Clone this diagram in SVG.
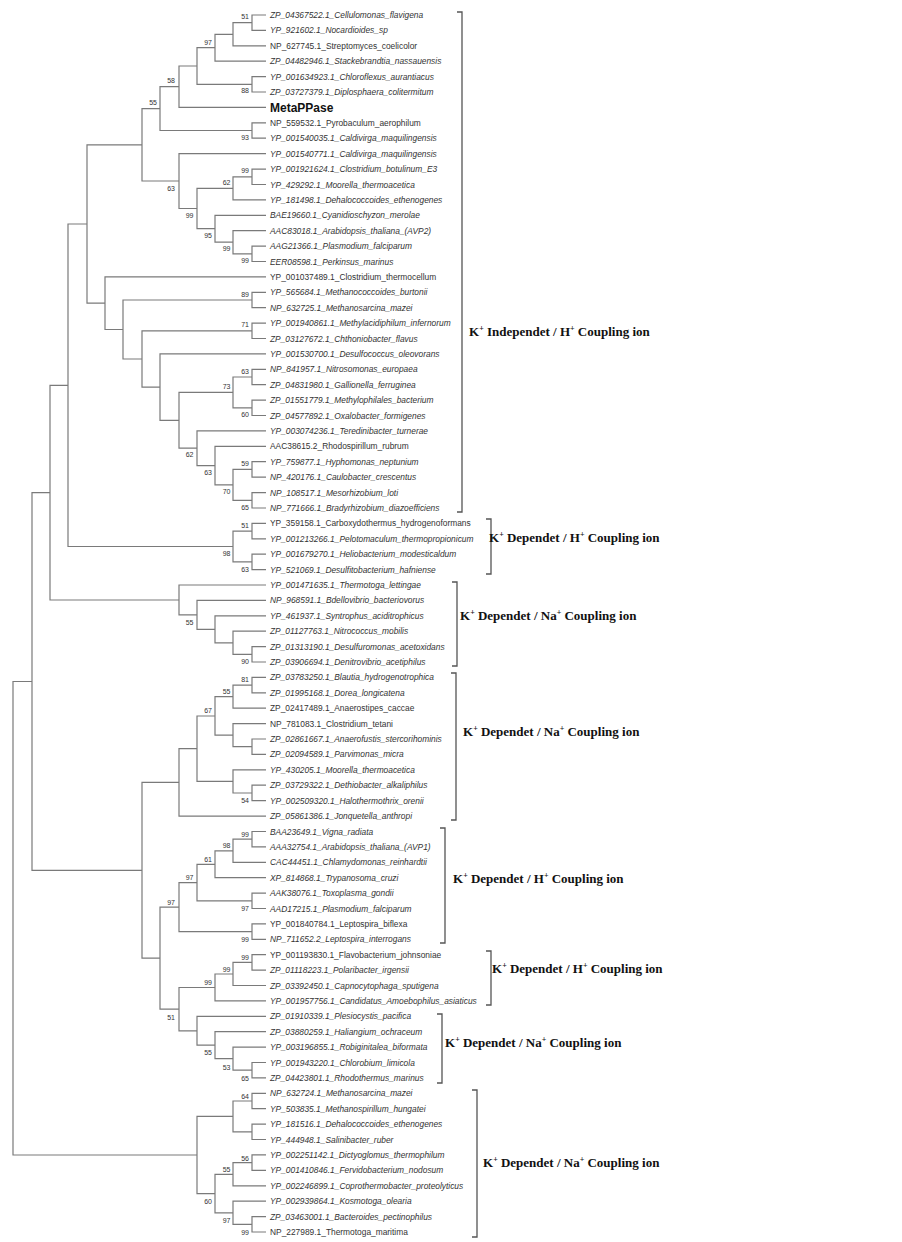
<svg xmlns="http://www.w3.org/2000/svg" width="902" height="1242" viewBox="0 0 902 1242">
<style>
.br{fill:none;stroke:#7a7a7a;stroke-width:1.2}
.bk{fill:none;stroke:#555;stroke-width:1.3}
text{font-family:"Liberation Sans",Arial,sans-serif}
.i{font-size:8.4px;font-style:italic;fill:#333}
.u{font-size:8.4px;fill:#333}
.bs{font-size:7px;fill:#333;text-anchor:end}
.mp{font-size:12px;font-weight:bold;fill:#111}
.gl{font-family:"Liberation Serif","Times New Roman",serif;font-size:13px;font-weight:bold;fill:#111}
.sp{font-size:8px}
</style>
<rect width="902" height="1242" fill="#fff"/>
<g id="connectors">
<path class="br" d="M266,15H252V30.4H266 M252,22.7H233V45.8H266 M233,34.3H215V61.2H266 M266,76.6H252V92H266 M215,47.7H197V84.3H252 M197,66H179V107.4H266 M266,122.8H252V138.2H266 M179,86.7H160V130.5H252 M266,169.1H252V184.5H266 M252,176.8H233V199.9H266 M266,246.1H252V261.5H266 M266,230.7H233V253.8H252 M266,215.3H215V242.2H233 M233,188.3H197V228.7H215 M266,153.6H179V208.5H197 M160,108.6H142V181H179"/>
<path class="br" d="M266,292.3H252V307.7H266 M266,323.1H252V338.5H266 M266,369.3H252V384.7H266 M266,400.1H252V415.5H266 M252,377H233V407.8H252 M266,461.7H252V477.2H266 M266,492.6H252V508H266 M252,469.4H233V500.3H252 M266,446.3H215V484.8H233 M266,430.9H197V465.6H215 M233,392.4H179V448.2H197 M266,353.9H160V420.3H179 M252,330.8H142V387.1H160 M252,300H123V359H142 M266,276.9H105V329.5H123 M142,144.8H87V303.2H105"/>
<path class="br" d="M266,523.4H252V538.8H266 M266,554.2H252V569.6H266 M252,531.1H233V561.9H252 M87,224H68V546.5H233 M266,646.6H252V662H266 M266,631.2H233V654.3H252 M266,615.8H215V642.8H233 M266,600.4H197V629.3H215 M266,585H179V614.9H197 M68,385.3H50V600H179"/>
<path class="br" d="M266,677.4H252V692.8H266 M252,685.1H233V708.2H266 M266,739H252V754.4H266 M266,723.6H233V746.7H252 M233,696.7H215V735.2H233 M266,785.2H252V800.7H266 M266,769.8H233V793H252 M215,716H197V781.4H233 M197,748.7H179V816.1H266"/>
<path class="br" d="M266,831.5H252V846.9H266 M252,839.2H233V862.3H266 M233,850.8H215V877.7H266 M266,893.1H252V908.5H266 M215,864.3H197V900.8H252 M266,923.9H252V939.3H266 M197,882.6H179V931.6H252 M266,954.7H252V970.1H266 M252,962.4H233V985.5H266 M233,974H215V1000.9H266 M266,1062.5H252V1077.9H266 M266,1047.1H233V1070.2H252 M266,1031.7H215V1058.7H233 M266,1016.3H197V1045.2H215 M215,987.5H179V1030.8H197 M179,907.1H160V1009.2H179 M179,782.4H142V958.2H160 M50,492.7H32V870.3H142"/>
<path class="br" d="M266,1093.3H252V1108.7H266 M266,1124.1H252V1139.5H266 M252,1101H233V1131.8H252 M266,1154.9H252V1170.4H266 M252,1162.7H233V1185.8H266 M266,1216.6H252V1232H266 M266,1201.2H233V1224.3H252 M233,1174.3H215V1212.8H233 M233,1116.4H197V1193.6H215 M32,681.5H13V1155H197"/>
</g>
<g id="bootstrap">
<text class="bs" x="249" y="18.5">51</text>
<text class="bs" x="212" y="44.5">97</text>
<text class="bs" x="175" y="82.5">58</text>
<text class="bs" x="249" y="92.5">88</text>
<text class="bs" x="157" y="104.5">55</text>
<text class="bs" x="249" y="139.5">93</text>
<text class="bs" x="249" y="172.5">99</text>
<text class="bs" x="230.5" y="184.5">62</text>
<text class="bs" x="175" y="190.5">63</text>
<text class="bs" x="193.5" y="217.5">99</text>
<text class="bs" x="212" y="237.5">95</text>
<text class="bs" x="230.5" y="250.5">99</text>
<text class="bs" x="249" y="262.5">99</text>
<text class="bs" x="249" y="296.5">89</text>
<text class="bs" x="249" y="326.5">71</text>
<text class="bs" x="249" y="373.5">63</text>
<text class="bs" x="230.5" y="388.5">73</text>
<text class="bs" x="249" y="416.5">60</text>
<text class="bs" x="193.5" y="456.5">62</text>
<text class="bs" x="249" y="465.5">59</text>
<text class="bs" x="212" y="474.5">63</text>
<text class="bs" x="230.5" y="493.5">70</text>
<text class="bs" x="249" y="509.5">65</text>
<text class="bs" x="249" y="527.5">51</text>
<text class="bs" x="230.5" y="555.5">98</text>
<text class="bs" x="249" y="571.5">63</text>
<text class="bs" x="193.5" y="624.5">55</text>
<text class="bs" x="249" y="663.5">90</text>
<text class="bs" x="249" y="681.5">81</text>
<text class="bs" x="230.5" y="693.5">55</text>
<text class="bs" x="212" y="712.5">67</text>
<text class="bs" x="249" y="802.5">54</text>
<text class="bs" x="249" y="836.5">99</text>
<text class="bs" x="230.5" y="847.5">98</text>
<text class="bs" x="212" y="861.5">61</text>
<text class="bs" x="193.5" y="879.5">97</text>
<text class="bs" x="175" y="904.5">97</text>
<text class="bs" x="249" y="910.5">97</text>
<text class="bs" x="249" y="941.5">99</text>
<text class="bs" x="249" y="959.5">99</text>
<text class="bs" x="230.5" y="971.5">99</text>
<text class="bs" x="212" y="984.5">99</text>
<text class="bs" x="175" y="1019.5">51</text>
<text class="bs" x="212" y="1054.5">55</text>
<text class="bs" x="230.5" y="1069.5">53</text>
<text class="bs" x="249" y="1080.5">65</text>
<text class="bs" x="249" y="1098.5">64</text>
<text class="bs" x="249" y="1160.5">56</text>
<text class="bs" x="230.5" y="1171.5">55</text>
<text class="bs" x="212" y="1203.5">60</text>
<text class="bs" x="230.5" y="1222.5">97</text>
<text class="bs" x="249" y="1234.5">99</text>
</g>
<g id="leaves">
<g id="n1"><text class="i" x="270" y="18">ZP_04367522.1_Cellulomonas_flavigena</text></g>
<g id="n2"><text class="i" x="270" y="33.4">YP_921602.1_Nocardioides_sp</text></g>
<g id="n3"><text class="u" x="270" y="48.8">NP_627745.1_Streptomyces_coelicolor</text></g>
<g id="n4"><text class="i" x="270" y="64.2">ZP_04482946.1_Stackebrandtia_nassauensis</text></g>
<g id="n5"><text class="i" x="270" y="79.6">YP_001634923.1_Chloroflexus_aurantiacus</text></g>
<g id="n6"><text class="i" x="270" y="95">ZP_03727379.1_Diplosphaera_colitermitum</text></g>
<g id="n7"><text class="mp" x="270" y="111.6">MetaPPase</text></g>
<g id="n8"><text class="u" x="270" y="125.8">NP_559532.1_Pyrobaculum_aerophilum</text></g>
<g id="n9"><text class="i" x="270" y="141.2">YP_001540035.1_Caldivirga_maquilingensis</text></g>
<g id="n10"><text class="i" x="270" y="156.6">YP_001540771.1_Caldivirga_maquilingensis</text></g>
<g id="n11"><text class="i" x="270" y="172.1">YP_001921624.1_Clostridium_botulinum_E3</text></g>
<g id="n12"><text class="i" x="270" y="187.5">YP_429292.1_Moorella_thermoacetica</text></g>
<g id="n13"><text class="i" x="270" y="202.9">YP_181498.1_Dehalococcoides_ethenogenes</text></g>
<g id="n14"><text class="i" x="270" y="218.3">BAE19660.1_Cyanidioschyzon_merolae</text></g>
<g id="n15"><text class="i" x="270" y="233.7">AAC83018.1_Arabidopsis_thaliana_(AVP2)</text></g>
<g id="n16"><text class="i" x="270" y="249.1">AAG21366.1_Plasmodium_falciparum</text></g>
<g id="n17"><text class="i" x="270" y="264.5">EER08598.1_Perkinsus_marinus</text></g>
<g id="n18"><text class="u" x="270" y="279.9">YP_001037489.1_Clostridium_thermocellum</text></g>
<g id="n19"><text class="i" x="270" y="295.3">YP_565684.1_Methanococcoides_burtonii</text></g>
<g id="n20"><text class="i" x="270" y="310.7">NP_632725.1_Methanosarcina_mazei</text></g>
<g id="n21"><text class="i" x="270" y="326.1">YP_001940861.1_Methylacidiphilum_infernorum</text></g>
<g id="n22"><text class="i" x="270" y="341.5">ZP_03127672.1_Chthoniobacter_flavus</text></g>
<g id="n23"><text class="i" x="270" y="356.9">YP_001530700.1_Desulfococcus_oleovorans</text></g>
<g id="n24"><text class="i" x="270" y="372.3">NP_841957.1_Nitrosomonas_europaea</text></g>
<g id="n25"><text class="i" x="270" y="387.7">ZP_04831980.1_Gallionella_ferruginea</text></g>
<g id="n26"><text class="i" x="270" y="403.1">ZP_01551779.1_Methylophilales_bacterium</text></g>
<g id="n27"><text class="i" x="270" y="418.5">ZP_04577892.1_Oxalobacter_formigenes</text></g>
<g id="n28"><text class="i" x="270" y="433.9">YP_003074236.1_Teredinibacter_turnerae</text></g>
<g id="n29"><text class="u" x="270" y="449.3">AAC38615.2_Rhodospirillum_rubrum</text></g>
<g id="n30"><text class="i" x="270" y="464.7">YP_759877.1_Hyphomonas_neptunium</text></g>
<g id="n31"><text class="i" x="270" y="480.2">NP_420176.1_Caulobacter_crescentus</text></g>
<g id="n32"><text class="i" x="270" y="495.6">NP_108517.1_Mesorhizobium_loti</text></g>
<g id="n33"><text class="i" x="270" y="511">NP_771666.1_Bradyrhizobium_diazoefficiens</text></g>
<g id="n34"><text class="u" x="270" y="526.4">YP_359158.1_Carboxydothermus_hydrogenoformans</text></g>
<g id="n35"><text class="i" x="270" y="541.8">YP_001213266.1_Pelotomaculum_thermopropionicum</text></g>
<g id="n36"><text class="i" x="270" y="557.2">YP_001679270.1_Heliobacterium_modesticaldum</text></g>
<g id="n37"><text class="i" x="270" y="572.6">YP_521069.1_Desulfitobacterium_hafniense</text></g>
<g id="n38"><text class="i" x="270" y="588">YP_001471635.1_Thermotoga_lettingae</text></g>
<g id="n39"><text class="i" x="270" y="603.4">NP_968591.1_Bdellovibrio_bacteriovorus</text></g>
<g id="n40"><text class="i" x="270" y="618.8">YP_461937.1_Syntrophus_aciditrophicus</text></g>
<g id="n41"><text class="i" x="270" y="634.2">ZP_01127763.1_Nitrococcus_mobilis</text></g>
<g id="n42"><text class="i" x="270" y="649.6">ZP_01313190.1_Desulfuromonas_acetoxidans</text></g>
<g id="n43"><text class="i" x="270" y="665">ZP_03906694.1_Denitrovibrio_acetiphilus</text></g>
<g id="n44"><text class="i" x="270" y="680.4">ZP_03783250.1_Blautia_hydrogenotrophica</text></g>
<g id="n45"><text class="i" x="270" y="695.8">ZP_01995168.1_Dorea_longicatena</text></g>
<g id="n46"><text class="u" x="270" y="711.2">ZP_02417489.1_Anaerostipes_caccae</text></g>
<g id="n47"><text class="u" x="270" y="726.6">NP_781083.1_Clostridium_tetani</text></g>
<g id="n48"><text class="i" x="270" y="742">ZP_02861667.1_Anaerofustis_stercorihominis</text></g>
<g id="n49"><text class="i" x="270" y="757.4">ZP_02094589.1_Parvimonas_micra</text></g>
<g id="n50"><text class="i" x="270" y="772.8">YP_430205.1_Moorella_thermoacetica</text></g>
<g id="n51"><text class="i" x="270" y="788.2">ZP_03729322.1_Dethiobacter_alkaliphilus</text></g>
<g id="n52"><text class="i" x="270" y="803.7">YP_002509320.1_Halothermothrix_orenii</text></g>
<g id="n53"><text class="i" x="270" y="819.1">ZP_05861386.1_Jonquetella_anthropi</text></g>
<g id="n54"><text class="i" x="270" y="834.5">BAA23649.1_Vigna_radiata</text></g>
<g id="n55"><text class="i" x="270" y="849.9">AAA32754.1_Arabidopsis_thaliana_(AVP1)</text></g>
<g id="n56"><text class="i" x="270" y="865.3">CAC44451.1_Chlamydomonas_reinhardtii</text></g>
<g id="n57"><text class="i" x="270" y="880.7">XP_814868.1_Trypanosoma_cruzi</text></g>
<g id="n58"><text class="i" x="270" y="896.1">AAK38076.1_Toxoplasma_gondii</text></g>
<g id="n59"><text class="i" x="270" y="911.5">AAD17215.1_Plasmodium_falciparum</text></g>
<g id="n60"><text class="u" x="270" y="926.9">YP_001840784.1_Leptospira_biflexa</text></g>
<g id="n61"><text class="i" x="270" y="942.3">NP_711652.2_Leptospira_interrogans</text></g>
<g id="n62"><text class="u" x="270" y="957.7">YP_001193830.1_Flavobacterium_johnsoniae</text></g>
<g id="n63"><text class="i" x="270" y="973.1">ZP_01118223.1_Polaribacter_irgensii</text></g>
<g id="n64"><text class="i" x="270" y="988.5">ZP_03392450.1_Capnocytophaga_sputigena</text></g>
<g id="n65"><text class="i" x="270" y="1003.9">YP_001957756.1_Candidatus_Amoebophilus_asiaticus</text></g>
<g id="n66"><text class="i" x="270" y="1019.3">ZP_01910339.1_Plesiocystis_pacifica</text></g>
<g id="n67"><text class="i" x="270" y="1034.7">ZP_03880259.1_Haliangium_ochraceum</text></g>
<g id="n68"><text class="i" x="270" y="1050.1">YP_003196855.1_Robiginitalea_biformata</text></g>
<g id="n69"><text class="i" x="270" y="1065.5">YP_001943220.1_Chlorobium_limicola</text></g>
<g id="n70"><text class="i" x="270" y="1080.9">ZP_04423801.1_Rhodothermus_marinus</text></g>
<g id="n71"><text class="i" x="270" y="1096.3">NP_632724.1_Methanosarcina_mazei</text></g>
<g id="n72"><text class="i" x="270" y="1111.7">YP_503835.1_Methanospirillum_hungatei</text></g>
<g id="n73"><text class="i" x="270" y="1127.1">YP_181516.1_Dehalococcoides_ethenogenes</text></g>
<g id="n74"><text class="i" x="270" y="1142.5">YP_444948.1_Salinibacter_ruber</text></g>
<g id="n75"><text class="i" x="270" y="1157.9">YP_002251142.1_Dictyoglomus_thermophilum</text></g>
<g id="n76"><text class="i" x="270" y="1173.4">YP_001410846.1_Fervidobacterium_nodosum</text></g>
<g id="n77"><text class="i" x="270" y="1188.8">YP_002246899.1_Coprothermobacter_proteolyticus</text></g>
<g id="n78"><text class="i" x="270" y="1204.2">YP_002939864.1_Kosmotoga_olearia</text></g>
<g id="n79"><text class="i" x="270" y="1219.6">ZP_03463001.1_Bacteroides_pectinophilus</text></g>
<g id="n80"><text class="u" x="270" y="1235">NP_227989.1_Thermotoga_maritima</text></g>
</g>
<g id="groups">
<g id="g1"><path class="bk" d="M457,12H462V512H457"/><text class="gl" x="469" y="335.5">K<tspan class="sp" dy="-5">+</tspan><tspan dy="5"> Independet / H</tspan><tspan class="sp" dy="-5">+</tspan><tspan dy="5"> Coupling ion</tspan></text></g>
<g id="g2"><path class="bk" d="M486,519H491V574H486"/><text class="gl" x="489" y="541.5">K<tspan class="sp" dy="-5">+</tspan><tspan dy="5"> Dependet / H</tspan><tspan class="sp" dy="-5">+</tspan><tspan dy="5"> Coupling ion</tspan></text></g>
<g id="g3"><path class="bk" d="M452,582H457V666H452"/><text class="gl" x="460" y="619.5">K<tspan class="sp" dy="-5">+</tspan><tspan dy="5"> Dependet / Na</tspan><tspan class="sp" dy="-5">+</tspan><tspan dy="5"> Coupling ion</tspan></text></g>
<g id="g4"><path class="bk" d="M451,673H456V820H451"/><text class="gl" x="463" y="736">K<tspan class="sp" dy="-5">+</tspan><tspan dy="5"> Dependet / Na</tspan><tspan class="sp" dy="-5">+</tspan><tspan dy="5"> Coupling ion</tspan></text></g>
<g id="g5"><path class="bk" d="M440,828H445V943H440"/><text class="gl" x="453" y="882.5">K<tspan class="sp" dy="-5">+</tspan><tspan dy="5"> Dependet / H</tspan><tspan class="sp" dy="-5">+</tspan><tspan dy="5"> Coupling ion</tspan></text></g>
<g id="g6"><path class="bk" d="M486,951H491V1005H486"/><text class="gl" x="492" y="972.5">K<tspan class="sp" dy="-5">+</tspan><tspan dy="5"> Dependet / H</tspan><tspan class="sp" dy="-5">+</tspan><tspan dy="5"> Coupling ion</tspan></text></g>
<g id="g7"><path class="bk" d="M437,1014H442V1083H437"/><text class="gl" x="445" y="1046.5">K<tspan class="sp" dy="-5">+</tspan><tspan dy="5"> Dependet / Na</tspan><tspan class="sp" dy="-5">+</tspan><tspan dy="5"> Coupling ion</tspan></text></g>
<g id="g8"><path class="bk" d="M472,1090H477V1237H472"/><text class="gl" x="483" y="1166.5">K<tspan class="sp" dy="-5">+</tspan><tspan dy="5"> Dependet / Na</tspan><tspan class="sp" dy="-5">+</tspan><tspan dy="5"> Coupling ion</tspan></text></g>
</g>
</svg>
